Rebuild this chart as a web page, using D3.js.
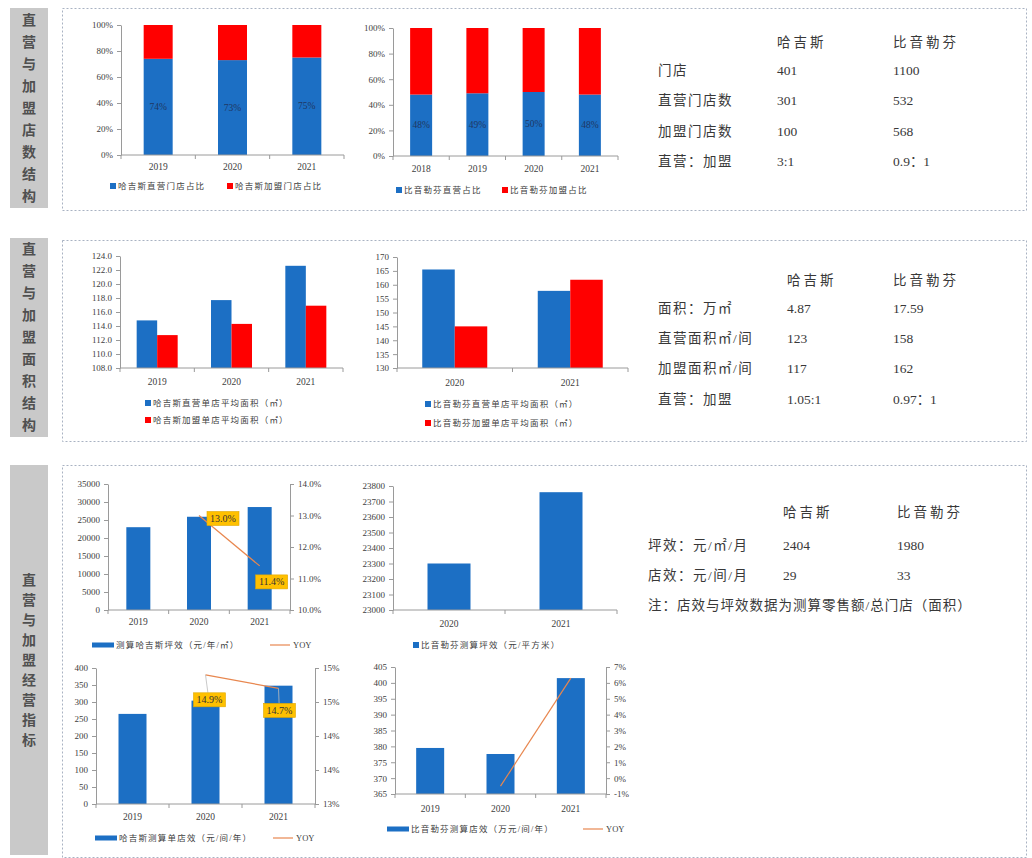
<!DOCTYPE html>
<html>
<head>
<meta charset="utf-8">
<script src="https://cdn.jsdelivr.net/npm/d3@7"></script>
<style>
  html, body { margin: 0; padding: 0; background: #ffffff; }
  svg { display: block; }
  text { font-family: "Liberation Serif", "Noto Sans CJK SC", serif; }
</style>
</head>
<body>
<script>
// ---- section titles ----
const sectionTitles = ["直营与加盟店数结构", "直营与加盟面积结构", "直营与加盟经营指标"];

// ---- store structure (share of directly operated stores) ----
const hjStoreYears = ["2019", "2020", "2021"];
const hjDirectShare = [0.74, 0.73, 0.75];
const hjStoreLegend = ["哈吉斯直营门店占比", "哈吉斯加盟门店占比"];

const byStoreYears = ["2018", "2019", "2020", "2021"];
const byDirectShare = [0.48, 0.49, 0.50, 0.48];
const byStoreLegend = ["比音勒芬直营占比", "比音勒芬加盟占比"];

// ---- average store area (㎡) ----
const hjAreaYears = ["2019", "2020", "2021"];
const hjDirectArea = [114.8, 117.7, 122.6];
const hjFranchiseArea = [112.7, 114.3, 116.9];
const hjAreaLegend = ["哈吉斯直营单店平均面积（㎡）", "哈吉斯加盟单店平均面积（㎡）"];

const byAreaYears = ["2020", "2021"];
const byDirectArea = [165.5, 157.8];
const byFranchiseArea = [145.0, 161.8];
const byAreaLegend = ["比音勒芬直营单店平均面积（㎡）", "比音勒芬加盟单店平均面积（㎡）"];

// ---- operating metrics ----
const hjSqmYears = ["2019", "2020", "2021"];
const hjSalesPerSqm = [23000, 25900, 28600];
const hjSalesPerSqmYoY = [null, 0.130, 0.114];
const hjSqmLegend = ["测算哈吉斯坪效（元/年/㎡）", "YOY"];

const bySqmYears = ["2020", "2021"];
const bySalesPerSqm = [23300, 23760];
const bySqmLegend = ["比音勒芬测算坪效（元/平方米）"];

const hjShopYears = ["2019", "2020", "2021"];
const hjSalesPerStore = [265, 304, 348];
const hjSalesPerStoreYoY = [null, 0.149, 0.147];
const hjShopLegend = ["哈吉斯测算单店效（元/间/年）", "YOY"];

const byShopYears = ["2019", "2020", "2021"];
const bySalesPerStore = [379.5, 377.6, 401.5];
const bySalesPerStoreYoY = [null, -0.005, 0.063];
const byShopLegend = ["比音勒芬测算店效（万元/间/年）", "YOY"];

// ---- tick values ----
const pctTicks = [0, 0.2, 0.4, 0.6, 0.8, 1.0];
const hjAreaTicks = [108, 110, 112, 114, 116, 118, 120, 122, 124];
const byAreaTicks = [130, 135, 140, 145, 150, 155, 160, 165, 170];
const hjSqmTicks = [0, 5000, 10000, 15000, 20000, 25000, 30000, 35000];
const hjSqmYoYTicks = [0.10, 0.11, 0.12, 0.13, 0.14];
const bySqmTicks = [23000, 23100, 23200, 23300, 23400, 23500, 23600, 23700, 23800];
const hjShopTicks = [0, 50, 100, 150, 200, 250, 300, 350, 400];
const hjShopYoYTicks = [0.130, 0.135, 0.140, 0.145, 0.150];
const byShopTicks = [365, 370, 375, 380, 385, 390, 395, 400, 405];
const byShopYoYTicks = [-0.01, 0, 0.01, 0.02, 0.03, 0.04, 0.05, 0.06, 0.07];

// ---- comparison tables ----
const tableHeader = ["哈吉斯", "比音勒芬"];
const storeTable = [["门店", "401", "1100"], ["直营门店数", "301", "532"], ["加盟门店数", "100", "568"], ["直营：加盟", "3:1", "0.9：1"]];
const areaTable = [["面积：万㎡", "4.87", "17.59"], ["直营面积㎡/间", "123", "158"], ["加盟面积㎡/间", "117", "162"], ["直营：加盟", "1.05:1", "0.97：1"]];
const effTable = [["坪效：元/㎡/月", "2404", "1980"], ["店效：元/间/月", "29", "33"]];
const effNote = "注：店效与坪效数据为测算零售额/总门店（面积）";

// ---- style ----
const BLUE = "#1c6fc4";
const RED = "#ff0000";
const LINE = "#e8874f";
const AXIS = "#9a9a9a";
const TXT = "#404040";
const LABEL_BG = "#ffc000";

const svg = d3.select("body").append("svg").attr("width", 1032).attr("height", 858);

// section frames and vertical title boxes
const frames = [
  { px: 62, py: 8, pw: 964, ph: 202, bx: 10, by: 8, bh: 200 },
  { px: 62, py: 240, pw: 964, ph: 201, bx: 10, by: 238, bh: 199 },
  { px: 62, py: 465, pw: 964, ph: 392, bx: 10, by: 465, bh: 390 }
];
frames.forEach((f, i) => {
  svg.append("rect").attr("x", f.px + 0.5).attr("y", f.py + 0.5).attr("width", f.pw).attr("height", f.ph)
    .attr("fill", "#fff").attr("stroke", "#a9b2c2").attr("stroke-width", 1).attr("stroke-dasharray", "2,2");
  svg.append("rect").attr("x", f.bx).attr("y", f.by).attr("width", 38).attr("height", f.bh).attr("fill", "#c9c9c9");
  const chars = Array.from(sectionTitles[i]);
  const step = i === 2 ? 20 : 22;
  const cy = f.by + f.bh / 2;
  chars.forEach((c, k) => {
    svg.append("text").attr("x", f.bx + 19).attr("y", cy + (k - (chars.length - 1) / 2) * step)
      .attr("text-anchor", "middle").attr("dominant-baseline", "central")
      .attr("font-size", 14).attr("font-weight", "bold").attr("fill", "#505050").text(c);
  });
});

// ---- shared helpers ----
function xAxisBase(g, x, y0, cats, labelY) {
  const [r0, r1] = x.range();
  g.append("line").attr("x1", r0).attr("x2", r1).attr("y1", y0).attr("y2", y0).attr("stroke", AXIS);
  const edges = cats.map(c => x(c)).concat([r1]);
  edges.forEach(e => g.append("line").attr("x1", e).attr("x2", e).attr("y1", y0).attr("y2", y0 + 4).attr("stroke", AXIS));
  cats.forEach(c => g.append("text").attr("x", x(c) + x.bandwidth() / 2).attr("y", labelY)
    .attr("text-anchor", "middle").attr("dominant-baseline", "central").attr("font-size", 9.5).attr("fill", TXT).text(c));
}
function yAxis(g, y, xPos, ticks, fmt, side) {
  const ax = (side === "right" ? d3.axisRight(y) : d3.axisLeft(y))
    .tickValues(ticks).tickFormat(fmt).tickSize(4).tickSizeOuter(0).tickPadding(4);
  const a = g.append("g").attr("transform", `translate(${xPos},0)`).call(ax);
  a.select(".domain").attr("stroke", AXIS);
  a.selectAll(".tick line").attr("stroke", AXIS);
  a.selectAll(".tick text").attr("font-size", 9).attr("fill", TXT)
    .attr("font-family", "'Liberation Serif', serif");
}
function legendSquare(g, x, y, color, label) {
  g.append("rect").attr("x", x - 3).attr("y", y - 3).attr("width", 6).attr("height", 6).attr("fill", color);
  g.append("text").attr("x", x + 5).attr("y", y).attr("dominant-baseline", "central")
    .attr("font-size", 8.5).attr("letter-spacing", 1.2).attr("fill", TXT).text(label);
}
function legendBar(g, x, y, label) {
  g.append("rect").attr("x", x).attr("y", y - 2.5).attr("width", 22).attr("height", 5).attr("fill", BLUE);
  g.append("text").attr("x", x + 24).attr("y", y).attr("dominant-baseline", "central")
    .attr("font-size", 8.5).attr("letter-spacing", 1.2).attr("fill", TXT).text(label);
}
function legendLine(g, x, y, label) {
  g.append("line").attr("x1", x).attr("x2", x + 20).attr("y1", y).attr("y2", y).attr("stroke", LINE).attr("stroke-width", 1.2);
  g.append("text").attr("x", x + 23).attr("y", y).attr("dominant-baseline", "central")
    .attr("font-size", 8.5).attr("fill", TXT).text(label);
}
function tagLabel(g, cx, cy, text) {
  const w = 32, h = 14;
  g.append("rect").attr("x", cx - w / 2).attr("y", cy - h / 2).attr("width", w).attr("height", h)
    .attr("fill", LABEL_BG).attr("stroke", "#e0a800").attr("stroke-width", 0.6);
  g.append("text").attr("x", cx).attr("y", cy).attr("text-anchor", "middle").attr("dominant-baseline", "central")
    .attr("font-size", 10).attr("fill", "#333").text(text);
}
// percent formats that round half up, as spreadsheet labels do
const pct0 = v => Math.round(v * 100 + 1e-9) + "%";
const pct1 = v => (Math.round(v * 1000 + 1e-9) / 10).toFixed(1) + "%";

// ---- stacked share chart ----
function shareChart(cats, share, box, barW, legend, legendPos, labelY) {
  const g = svg.append("g");
  const x = d3.scaleBand().domain(cats).range([box.x0, box.x1]);
  const y = d3.scaleLinear().domain([0, 1]).range([box.y0, box.y1]);
  const w = barW;
  cats.forEach((c, i) => {
    const cx = x(c) + x.bandwidth() / 2;
    g.append("rect").attr("x", cx - w / 2).attr("y", y(share[i])).attr("width", w)
      .attr("height", y(0) - y(share[i])).attr("fill", BLUE);
    g.append("rect").attr("x", cx - w / 2).attr("y", y(1)).attr("width", w)
      .attr("height", y(share[i]) - y(1)).attr("fill", RED);
    g.append("text").attr("x", cx).attr("y", (y(0) + y(share[i])) / 2).attr("text-anchor", "middle")
      .attr("dominant-baseline", "central").attr("font-size", 9.5).attr("fill", "#1f3763").text(pct0(share[i]));
  });
  yAxis(g, y, box.x0, pctTicks, pct0, "left");
  xAxisBase(g, x, box.y0, cats, labelY);
  legendSquare(g, legendPos[0], legendPos[2], BLUE, legend[0]);
  legendSquare(g, legendPos[1], legendPos[2], RED, legend[1]);
}
shareChart(hjStoreYears, hjDirectShare, { x0: 121, x1: 344, y0: 155, y1: 25 }, 29, hjStoreLegend, [113, 230, 186], 167);
shareChart(byStoreYears, byDirectShare, { x0: 393, x1: 618, y0: 156, y1: 28 }, 22, byStoreLegend, [399, 505, 190], 169);

// ---- grouped area chart ----
function groupedChart(cats, a, b, box, domain, ticks, fmt, barW, legend, legendPos, labelY) {
  const g = svg.append("g");
  const x = d3.scaleBand().domain(cats).range([box.x0, box.x1]);
  const y = d3.scaleLinear().domain(domain).range([box.y0, box.y1]);
  cats.forEach((c, i) => {
    const cx = x(c) + x.bandwidth() / 2;
    g.append("rect").attr("x", cx - barW).attr("y", y(a[i])).attr("width", barW)
      .attr("height", y(domain[0]) - y(a[i])).attr("fill", BLUE);
    g.append("rect").attr("x", cx).attr("y", y(b[i])).attr("width", barW)
      .attr("height", y(domain[0]) - y(b[i])).attr("fill", RED);
  });
  yAxis(g, y, box.x0, ticks, fmt, "left");
  xAxisBase(g, x, box.y0, cats, labelY);
  legendSquare(g, legendPos[0], legendPos[1], BLUE, legend[0]);
  legendSquare(g, legendPos[0], legendPos[2], RED, legend[1]);
}
groupedChart(hjAreaYears, hjDirectArea, hjFranchiseArea, { x0: 120, x1: 343, y0: 368, y1: 256 },
  [108, 124], hjAreaTicks, d3.format(".1f"), 20.5, hjAreaLegend, [148, 403, 420], 382);
groupedChart(byAreaYears, byDirectArea, byFranchiseArea, { x0: 397, x1: 628, y0: 368, y1: 257 },
  [130, 170], byAreaTicks, d3.format("d"), 32.5, byAreaLegend, [428, 404, 423], 383);

// ---- bar + YoY line chart ----
function barLineChart(cfg) {
  const g = svg.append("g");
  const x = d3.scaleBand().domain(cfg.cats).range([cfg.x0, cfg.x1]);
  const y = d3.scaleLinear().domain(cfg.domain).range([cfg.y0, cfg.y1]);
  cfg.cats.forEach((c, i) => {
    const cx = x(c) + x.bandwidth() / 2;
    g.append("rect").attr("x", cx - cfg.barW / 2).attr("y", y(cfg.values[i])).attr("width", cfg.barW)
      .attr("height", y(cfg.domain[0]) - y(cfg.values[i])).attr("fill", BLUE);
  });
  yAxis(g, y, cfg.x0, cfg.ticks, cfg.fmt, "left");
  xAxisBase(g, x, cfg.y0, cfg.cats, cfg.labelY);
  if (cfg.yoy) {
    const y2 = d3.scaleLinear().domain(cfg.yoyDomain).range([cfg.y0, cfg.y1]);
    yAxis(g, y2, cfg.x1, cfg.yoyTicks, cfg.yoyFmt, "right");
    const pts = cfg.cats.map((c, i) => ({ c, v: cfg.yoy[i] })).filter(d => d.v !== null);
    const line = d3.line().x(d => x(d.c) + x.bandwidth() / 2).y(d => y2(d.v));
    g.append("path").datum(pts).attr("d", line).attr("fill", "none").attr("stroke", LINE).attr("stroke-width", 1.2);
    if (cfg.tags) {
      pts.forEach((d, k) => {
        const px = x(d.c) + x.bandwidth() / 2, py = y2(d.v);
        const [dx, dy] = cfg.tags[k];
        if (cfg.leader) {
          g.append("line").attr("x1", px).attr("y1", py).attr("x2", px + dx * 0.6).attr("y2", py + dy - 7)
            .attr("stroke", "#bbbbbb").attr("stroke-width", 0.8);
        }
        tagLabel(g, px + dx, py + dy, pct1(d.v));
      });
    }
  }
  if (cfg.legendBarPos) legendBar(g, cfg.legendBarPos[0], cfg.legendBarPos[1], cfg.legend[0]);
  if (cfg.legendSqPos) legendSquare(g, cfg.legendSqPos[0], cfg.legendSqPos[1], BLUE, cfg.legend[0]);
  if (cfg.legendLinePos) legendLine(g, cfg.legendLinePos[0], cfg.legendLinePos[1], cfg.legend[1]);
}

barLineChart({
  cats: hjSqmYears, values: hjSalesPerSqm, x0: 108, x1: 290, y0: 610, y1: 484, barW: 24,
  domain: [0, 35000], ticks: hjSqmTicks, fmt: d3.format("d"), labelY: 622,
  yoy: hjSalesPerSqmYoY, yoyDomain: [0.10, 0.14], yoyTicks: hjSqmYoYTicks, yoyFmt: pct1,
  tags: [[24, 3], [12, 16]],
  legend: hjSqmLegend, legendBarPos: [92, 645], legendLinePos: [270, 645]
});
barLineChart({
  cats: bySqmYears, values: bySalesPerSqm, x0: 393, x1: 617, y0: 610, y1: 486, barW: 43,
  domain: [23000, 23800], ticks: bySqmTicks, fmt: d3.format("d"), labelY: 624,
  legend: bySqmLegend, legendSqPos: [416, 645]
});
barLineChart({
  cats: hjShopYears, values: hjSalesPerStore, x0: 96, x1: 315, y0: 804, y1: 668, barW: 28,
  domain: [0, 400], ticks: hjShopTicks, fmt: d3.format("d"), labelY: 817,
  yoy: hjSalesPerStoreYoY, yoyDomain: [0.13, 0.15], yoyTicks: hjShopYoYTicks, yoyFmt: pct0,
  tags: [[4, 25], [1, 22]], leader: true,
  legend: hjShopLegend, legendBarPos: [95, 838], legendLinePos: [273, 838]
});
barLineChart({
  cats: byShopYears, values: bySalesPerStore, x0: 395, x1: 606, y0: 794, y1: 667, barW: 28,
  domain: [365, 405], ticks: byShopTicks, fmt: d3.format("d"), labelY: 809,
  yoy: bySalesPerStoreYoY, yoyDomain: [-0.01, 0.07], yoyTicks: byShopYoYTicks, yoyFmt: pct0,
  legend: byShopLegend, legendBarPos: [387, 829], legendLinePos: [583, 829]
});

// ---- comparison tables ----
function table(rows, cols, headerY, rowYs, note, noteY) {
  const g = svg.append("g").attr("fill", "#383838").attr("font-size", 13.5);
  tableHeader.forEach((h, i) => g.append("text").attr("x", cols[i + 1]).attr("y", headerY)
    .attr("dominant-baseline", "central").attr("letter-spacing", 3).text(h));
  rows.forEach((r, k) => r.forEach((cell, i) => g.append("text").attr("x", cols[i]).attr("y", rowYs[k])
    .attr("dominant-baseline", "central").attr("letter-spacing", i === 0 ? 1.5 : 0).text(cell)));
  if (note) g.append("text").attr("x", cols[0]).attr("y", noteY).attr("dominant-baseline", "central")
    .attr("letter-spacing", 1).text(note);
}
table(storeTable, [658, 777, 893], 42, [70, 100, 131, 161]);
table(areaTable, [658, 787, 893], 280, [308, 338, 368, 399]);
table(effTable, [648, 783, 897], 512, [545, 575], effNote, 605);
</script>
</body>
</html>
